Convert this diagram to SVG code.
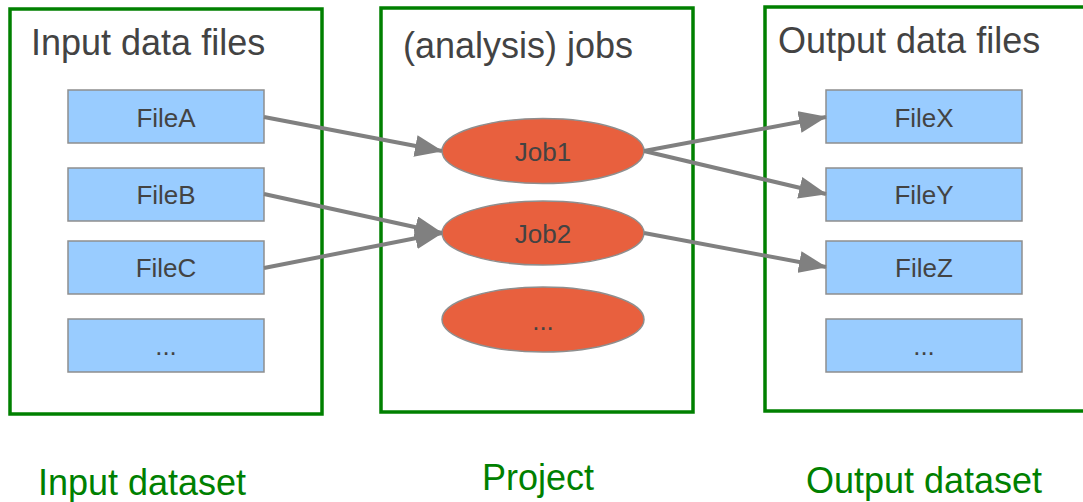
<svg xmlns="http://www.w3.org/2000/svg" width="1083" height="502" viewBox="0 0 1083 502">
<style>
.grp{fill:none;stroke:#008000;stroke-width:3.5}
.title{font-family:"Liberation Sans",Arial,sans-serif;font-size:36px;fill:#434343}
.lbl{font-family:"Liberation Sans",Arial,sans-serif;font-size:36px;fill:#008000;text-anchor:middle}
.file rect{fill:#99ccff;stroke:#8e8e8e;stroke-width:1.5}
.job ellipse{fill:#e8603e;stroke:#8e8e8e;stroke-width:1.5}
.t{font-family:"Liberation Sans",Arial,sans-serif;font-size:26px;fill:#434343;text-anchor:middle}
.conn line{stroke:#808080;stroke-width:4;marker-end:url(#ah)}
</style>
<defs>
<marker id="ah" markerUnits="userSpaceOnUse" markerWidth="28" markerHeight="22" refX="27" refY="11" orient="auto">
<path d="M0,0 L28,11 L0,22 z" fill="#808080"/>
</marker>
</defs>
<rect width="1083" height="502" fill="#fff"/>
<g id="input-dataset">
<rect class="grp" x="10" y="9" width="312" height="405"/>
<text class="title" x="31" y="55">Input data files</text>
<text class="lbl" x="142" y="495">Input dataset</text>
</g>
<g id="project">
<rect class="grp" x="381" y="8" width="312" height="404"/>
<text class="title" x="403" y="58">(analysis) jobs</text>
<text class="lbl" x="538" y="490">Project</text>
</g>
<g id="output-dataset">
<rect class="grp" x="765" y="7" width="330" height="404"/>
<text class="title" x="778" y="53">Output data files</text>
<text class="lbl" x="924" y="493">Output dataset</text>
</g>
<g id="fileA" class="file"><rect x="68" y="90" width="196" height="53"/><text class="t" x="166" y="127">FileA</text></g>
<g id="fileB" class="file"><rect x="68" y="168" width="196" height="53"/><text class="t" x="166" y="204">FileB</text></g>
<g id="fileC" class="file"><rect x="68" y="241" width="196" height="53"/><text class="t" x="166" y="277">FileC</text></g>
<g id="fileMore" class="file"><rect x="68" y="319" width="196" height="53"/><text class="t" x="166" y="355">...</text></g>
<g id="job1" class="job"><ellipse cx="543" cy="151" rx="101" ry="32.5"/><text class="t" x="543" y="161">Job1</text></g>
<g id="job2" class="job"><ellipse cx="543" cy="233" rx="101" ry="32"/><text class="t" x="543" y="243">Job2</text></g>
<g id="jobMore" class="job"><ellipse cx="543" cy="319.5" rx="101" ry="32.5"/><text class="t" x="543" y="330">...</text></g>
<g id="fileX" class="file"><rect x="826" y="90" width="196" height="53"/><text class="t" x="924" y="127">FileX</text></g>
<g id="fileY" class="file"><rect x="826" y="168" width="196" height="53"/><text class="t" x="924" y="204">FileY</text></g>
<g id="fileZ" class="file"><rect x="826" y="241" width="196" height="53"/><text class="t" x="924" y="277">FileZ</text></g>
<g id="fileOutMore" class="file"><rect x="826" y="319" width="196" height="53"/><text class="t" x="924" y="355">...</text></g>
<g id="connectors" class="conn">
<line x1="264" y1="117" x2="442" y2="151"/>
<line x1="264" y1="194" x2="442" y2="233"/>
<line x1="264" y1="268" x2="442" y2="233"/>
<line x1="644" y1="151" x2="826" y2="117"/>
<line x1="644" y1="151" x2="826" y2="194"/>
<line x1="644" y1="233" x2="826" y2="267"/>
</g>
</svg>
